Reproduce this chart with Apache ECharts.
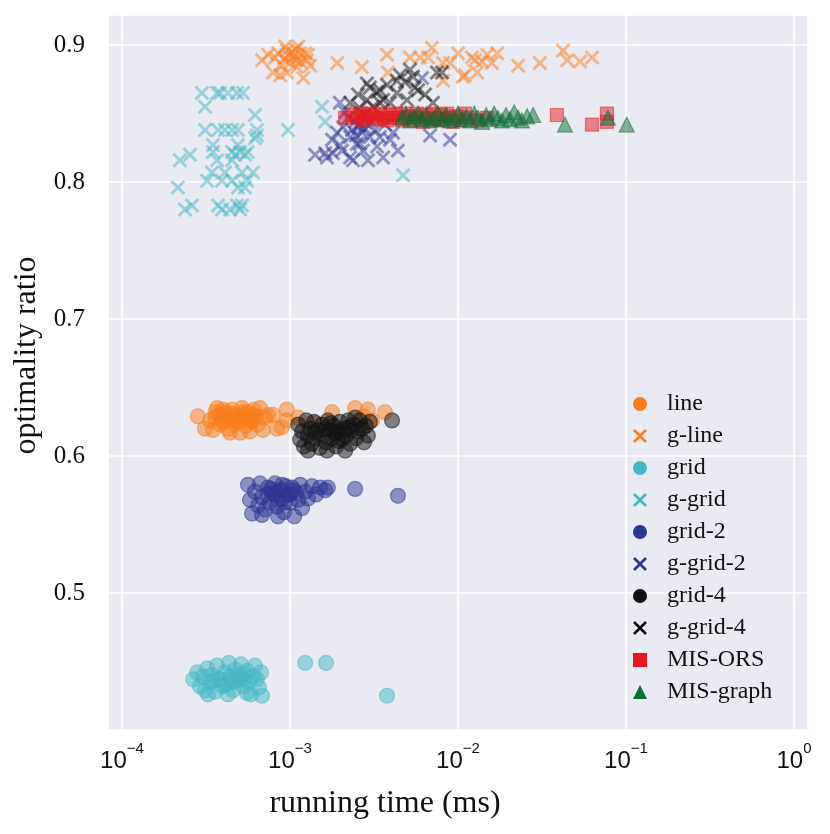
<!DOCTYPE html>
<html><head><meta charset="utf-8">
<script src="https://cdn.jsdelivr.net/npm/echarts@6/dist/echarts.min.js"></script>
<style>html,body{margin:0;padding:0;background:#fff}#c{width:830px;height:834px}</style>
</head><body><div id="c"></div>
<script>
// ---- data: [running time (ms), optimality ratio] ----
const seriesNames = ['line','g-line','grid','g-grid','grid-2','g-grid-2','grid-4','g-grid-4','MIS-ORS','MIS-graph'];
const xTickValues = [1e-4, 1e-3, 1e-2, 1e-1, 1];
const yTickValues = [0.5, 0.6, 0.7, 0.8, 0.9];

const lineData = [
 [2.83e-4,0.629],[3.12e-4,0.620],[3.34e-4,0.626],[3.48e-4,0.619],[3.68e-4,0.635],[3.83e-4,0.630],[3.99e-4,0.625],
 [4.10e-4,0.632],[4.27e-4,0.628],[4.39e-4,0.617],[4.52e-4,0.634],[4.71e-4,0.623],[4.84e-4,0.630],[5.04e-4,0.617],
 [5.04e-4,0.626],[5.18e-4,0.635],[5.32e-4,0.628],[5.47e-4,0.622],[5.62e-4,0.632],[5.78e-4,0.618],[5.94e-4,0.626],
 [6.10e-4,0.634],[6.27e-4,0.629],[6.45e-4,0.623],[6.63e-4,0.635],[6.90e-4,0.619],[7.10e-4,0.628],[7.39e-4,0.630],
 [7.92e-4,0.630],[8.36e-4,0.620],[8.96e-4,0.621],[9.59e-4,0.634],[9.59e-4,0.626],[1.12e-3,0.628],[1.41e-3,0.624],
 [1.78e-3,0.632],[2.44e-3,0.635],[2.72e-3,0.629],[2.91e-3,0.634],[3.08e-3,0.626],[3.68e-3,0.632],
 [3.58e-4,0.628],[4.16e-4,0.626],[4.58e-4,0.628],[4.90e-4,0.625],[5.40e-4,0.630],[5.78e-4,0.625],[3.83e-4,0.623],[4.27e-4,0.620],
 [4.45e-4,0.631],[4.00e-4,0.634],[5.25e-4,0.632],[4.70e-4,0.627],[5.60e-4,0.628],[6.00e-4,0.630],[3.60e-4,0.632]
];
const gLineData = [
 [6.82e-4,0.889],[7.92e-4,0.880],[8.49e-4,0.894],[9.60e-4,0.896],[1.04e-3,0.891],[1.15e-3,0.894],[1.26e-3,0.889],
 [9.60e-4,0.880],[1.20e-3,0.876],[1.10e-3,0.884],[8.97e-4,0.885],[1.00e-3,0.887],[8.15e-4,0.891],[8.73e-4,0.878],
 [1.28e-3,0.893],[1.12e-3,0.899],[9.35e-4,0.899],[1.23e-3,0.894],[1.03e-3,0.895],[1.09e-3,0.889],[9.20e-4,0.890],
 [1.15e-3,0.888],[1.32e-3,0.885],[7.40e-4,0.893],[1.06e-3,0.893],[9.80e-4,0.892],[1.08e-3,0.897],
 [1.91e-3,0.887],[2.68e-3,0.884],[3.78e-3,0.893],[3.83e-3,0.880],[5.18e-3,0.891],[5.94e-3,0.891],[6.63e-3,0.891],
 [7.00e-3,0.898],[8.15e-3,0.887],[8.15e-3,0.874],[1.00e-2,0.894],[1.07e-2,0.877],[1.21e-2,0.891],[1.30e-2,0.880],
 [1.39e-2,0.888],[1.49e-2,0.893],[1.59e-2,0.887],[1.71e-2,0.894],[2.28e-2,0.885],[3.07e-2,0.887],[4.22e-2,0.896],
 [4.47e-2,0.889],[5.33e-2,0.888],[6.28e-2,0.891],[8.97e-3,0.887],[1.10e-2,0.878],[1.26e-2,0.889]
];
const gridData = [
 [2.65e-4,0.437],[2.80e-4,0.442],[2.91e-4,0.432],[3.04e-4,0.439],[3.12e-4,0.429],[3.21e-4,0.445],[3.34e-4,0.435],
 [3.43e-4,0.440],[3.58e-4,0.428],[3.68e-4,0.447],[3.83e-4,0.437],[3.94e-4,0.432],[4.10e-4,0.442],[4.22e-4,0.434],
 [4.33e-4,0.449],[4.45e-4,0.438],[4.58e-4,0.429],[4.71e-4,0.444],[4.84e-4,0.436],[4.97e-4,0.440],[5.11e-4,0.448],
 [5.25e-4,0.432],[5.40e-4,0.438],[5.55e-4,0.443],[5.70e-4,0.435],[5.86e-4,0.426],[6.02e-4,0.439],[6.19e-4,0.447],
 [6.36e-4,0.437],[6.54e-4,0.431],[6.72e-4,0.442],[6.81e-4,0.425],[5.55e-4,0.427],[4.27e-4,0.426],[3.25e-4,0.426],
 [1.23e-3,0.449],[1.64e-3,0.449],[3.78e-3,0.425],
 [3.73e-4,0.437],[4.39e-4,0.439],[5.04e-4,0.437],[4.10e-4,0.433],[4.60e-4,0.435],[3.50e-4,0.436],[5.20e-4,0.441]
];
const gGridData = [
 [2.99e-4,0.865],[3.68e-4,0.865],[3.83e-4,0.865],[4.27e-4,0.865],[4.84e-4,0.865],[5.25e-4,0.865],
 [3.12e-4,0.855],[6.19e-4,0.849],
 [3.12e-4,0.838],[3.73e-4,0.838],[4.10e-4,0.838],[4.52e-4,0.838],[4.90e-4,0.838],[6.36e-4,0.838],[9.73e-4,0.838],
 [6.36e-4,0.834],[6.19e-4,0.832],
 [3.48e-4,0.827],[4.90e-4,0.827],
 [3.48e-4,0.822],[4.52e-4,0.822],[5.04e-4,0.822],[5.62e-4,0.822],
 [2.54e-4,0.820],[4.71e-4,0.820],[5.40e-4,0.820],
 [2.21e-4,0.816],[3.68e-4,0.816],[4.52e-4,0.816],
 [3.43e-4,0.807],[4.10e-4,0.807],[5.18e-4,0.807],[6.02e-4,0.807],
 [3.21e-4,0.801],[3.94e-4,0.801],[4.52e-4,0.801],[5.55e-4,0.801],
 [2.15e-4,0.796],[4.90e-4,0.796],[5.40e-4,0.796],
 [2.61e-4,0.783],[3.73e-4,0.783],[4.84e-4,0.783],[5.18e-4,0.783],
 [2.37e-4,0.780],[3.94e-4,0.780],[4.40e-4,0.780],[5.04e-4,0.780],
 [1.55e-3,0.855],[1.62e-3,0.844],[4.71e-3,0.805]
];
const grid2Data = [
 [5.62e-4,0.579],[5.78e-4,0.568],[5.94e-4,0.558],[6.19e-4,0.574],[6.45e-4,0.564],[6.63e-4,0.580],[6.81e-4,0.570],
 [7.10e-4,0.561],[7.39e-4,0.577],[7.60e-4,0.566],[7.81e-4,0.573],[8.14e-4,0.580],[8.36e-4,0.563],[8.71e-4,0.575],
 [8.96e-4,0.569],[9.20e-4,0.559],[9.46e-4,0.578],[9.72e-4,0.572],[1.00e-3,0.566],[1.03e-3,0.577],[1.06e-3,0.556],
 [1.09e-3,0.573],[1.12e-3,0.568],[1.15e-3,0.579],[1.18e-3,0.562],[1.23e-3,0.574],[1.28e-3,0.569],[1.35e-3,0.578],
 [1.43e-3,0.572],[1.51e-3,0.577],[1.62e-3,0.575],[1.68e-3,0.577],[2.44e-3,0.576],[4.39e-3,0.571],[6.81e-4,0.557],
 [8.48e-4,0.556],[7.39e-4,0.572],[9.33e-4,0.566],[8.14e-4,0.572],[8.96e-4,0.575],[1.00e-3,0.572],[8.48e-4,0.568],
 [9.00e-4,0.579],[1.05e-3,0.575],[7.70e-4,0.576]
];
const gGrid2Data = [
 [1.41e-3,0.820],[1.62e-3,0.821],[1.80e-3,0.821],[2.04e-3,0.823],[2.37e-3,0.816],[2.72e-3,0.823],[2.28e-3,0.833],
 [2.50e-3,0.828],[1.91e-3,0.836],[2.07e-3,0.840],[1.78e-3,0.831],[2.99e-3,0.833],[3.30e-3,0.826],[3.58e-3,0.818],
 [3.94e-3,0.831],[4.11e-3,0.836],[1.98e-3,0.858],[6.82e-3,0.834],[8.97e-3,0.831],[6.11e-3,0.876],[1.66e-3,0.818],
 [2.28e-3,0.818],[2.61e-3,0.828],[3.43e-3,0.833],[2.61e-3,0.842],[2.80e-3,0.839],[2.44e-3,0.844],[2.22e-3,0.847],
 [2.99e-3,0.845],[3.21e-3,0.838],[2.13e-3,0.851],[2.68e-3,0.850],[2.34e-3,0.838],[3.68e-3,0.842],[4.39e-3,0.823],
 [2.91e-3,0.816],[1.98e-3,0.827],[2.54e-3,0.841],[2.68e-3,0.836],[2.47e-3,0.834],[2.83e-3,0.843]
];
const grid4Data = [
 [1.12e-3,0.623],[1.15e-3,0.612],[1.18e-3,0.618],[1.21e-3,0.607],[1.25e-3,0.626],[1.28e-3,0.615],[1.32e-3,0.620],
 [1.35e-3,0.609],[1.39e-3,0.625],[1.43e-3,0.613],[1.47e-3,0.619],[1.51e-3,0.606],[1.55e-3,0.623],[1.59e-3,0.615],
 [1.64e-3,0.610],[1.68e-3,0.626],[1.73e-3,0.619],[1.78e-3,0.613],[1.83e-3,0.622],[1.88e-3,0.607],[1.93e-3,0.618],
 [1.98e-3,0.625],[2.04e-3,0.612],[2.10e-3,0.620],[2.16e-3,0.615],[2.22e-3,0.626],[2.28e-3,0.609],[2.34e-3,0.619],
 [2.40e-3,0.623],[2.47e-3,0.613],[2.54e-3,0.618],[2.61e-3,0.626],[2.68e-3,0.620],[2.76e-3,0.610],[2.83e-3,0.622],
 [2.91e-3,0.615],[2.13e-3,0.604],[1.66e-3,0.604],[1.28e-3,0.604],[2.44e-3,0.628],[4.05e-3,0.626],[2.99e-3,0.625],
 [1.41e-3,0.617],[1.85e-3,0.617],[1.62e-3,0.620],[1.75e-3,0.624],[2.00e-3,0.617],[2.25e-3,0.621],[1.95e-3,0.611]
];
const gGrid4Data = [
 [2.87e-3,0.872],[3.78e-3,0.871],[4.52e-3,0.878],[5.18e-3,0.882],[5.55e-3,0.869],[7.50e-3,0.880],[8.04e-3,0.880],
 [4.33e-3,0.865],[3.43e-3,0.858],[2.87e-3,0.860],[2.54e-3,0.864],[2.61e-3,0.854],[4.97e-3,0.860],[7.10e-3,0.858],
 [3.30e-3,0.866],[3.94e-3,0.858],[2.99e-3,0.869],[3.43e-3,0.867],[4.33e-3,0.874],[5.40e-3,0.877],[5.78e-3,0.867],
 [3.58e-3,0.860],[3.12e-3,0.855],[4.84e-3,0.873],[2.28e-3,0.858],[6.37e-3,0.864]
];
const misOrsData = [
 [2.13e-3,0.847],[2.34e-3,0.849],[2.51e-3,0.847],[2.61e-3,0.850],[2.72e-3,0.845],[2.83e-3,0.848],[2.95e-3,0.850],
 [3.08e-3,0.847],[3.21e-3,0.849],[3.34e-3,0.846],[3.48e-3,0.850],[3.63e-3,0.847],[3.78e-3,0.845],[3.94e-3,0.849],
 [4.10e-3,0.847],[4.27e-3,0.850],[4.45e-3,0.847],[4.64e-3,0.845],[4.84e-3,0.850],[5.04e-3,0.847],[5.25e-3,0.848],
 [5.47e-3,0.845],[5.70e-3,0.850],[5.94e-3,0.847],[6.19e-3,0.844],[6.45e-3,0.849],[6.72e-3,0.846],[7.00e-3,0.850],
 [7.29e-3,0.847],[7.60e-3,0.845],[7.92e-3,0.849],[8.25e-3,0.846],[8.60e-3,0.850],[8.96e-3,0.847],[9.33e-3,0.844],
 [9.72e-3,0.848],[1.03e-2,0.845],[1.10e-2,0.850],[1.18e-2,0.847],[1.30e-2,0.845],[1.49e-2,0.847],
 [3.88e-2,0.849],[6.27e-2,0.842],[7.70e-2,0.850],[7.70e-2,0.844]
];
const misGraphData = [
 [4.64e-3,0.847],[4.90e-3,0.850],[5.18e-3,0.845],[5.47e-3,0.848],[5.78e-3,0.850],[6.10e-3,0.846],[6.45e-3,0.849],
 [6.81e-3,0.845],[7.19e-3,0.847],[7.60e-3,0.850],[8.03e-3,0.846],[8.48e-3,0.849],[8.96e-3,0.845],[9.46e-3,0.847],
 [1.00e-2,0.850],[1.06e-2,0.846],[1.12e-2,0.848],[1.18e-2,0.845],[1.25e-2,0.850],[1.32e-2,0.847],[1.39e-2,0.844],
 [1.47e-2,0.849],[1.55e-2,0.846],[1.64e-2,0.850],[1.73e-2,0.847],[1.83e-2,0.845],[1.93e-2,0.849],[2.04e-2,0.846],
 [2.16e-2,0.851],[2.28e-2,0.847],[2.40e-2,0.845],[2.58e-2,0.848],[2.80e-2,0.849],
 [4.33e-2,0.842],[7.81e-2,0.847],[1.01e-1,0.842]
];

// ---- styling ----
const CROSS = 'path://M0,1.35L1.35,0L5,3.65L8.65,0L10,1.35L6.35,5L10,8.65L8.65,10L5,6.35L1.35,10L0,8.65L3.65,5Z';
const colors = {
  orange:'#f97d1c', teal:'#45b8c6', blue:'#2b3592', black:'#111111', red:'#e4191f', green:'#0c6e36'
};
const SERIF = '"Liberation Serif","Times New Roman",serif';
const SANS = '"Liberation Sans",Arial,sans-serif';

function mk(name, data, symbol, color, size){
  const isCross = symbol === CROSS;
  return {
    name, type:'scatter', data, symbol, symbolSize:size,
    itemStyle:{color, opacity:0.5, borderColor:color, borderWidth: isCross?0:1.2},
    emphasis:{disabled:true}, z:2
  };
}
const series = [
  mk(seriesNames[0], lineData, 'circle', colors.orange, 15),
  mk(seriesNames[1], gLineData, CROSS, colors.orange, 15),
  mk(seriesNames[2], gridData, 'circle', colors.teal, 15),
  mk(seriesNames[3], gGridData, CROSS, colors.teal, 15),
  mk(seriesNames[4], grid2Data, 'circle', colors.blue, 15),
  mk(seriesNames[5], gGrid2Data, CROSS, colors.blue, 15),
  mk(seriesNames[6], grid4Data, 'circle', colors.black, 15),
  mk(seriesNames[7], gGrid4Data, CROSS, colors.black, 15),
  mk(seriesNames[8], misOrsData, 'rect', colors.red, 13),
  mk(seriesNames[9], misGraphData, 'triangle', colors.green, 15)
];

const chart = echarts.init(document.getElementById('c'), null, {renderer:'canvas'});
chart.setOption({
  animation:false,
  backgroundColor:'#ffffff',
  grid:{left:108, right:22, top:15, bottom:104, show:true, backgroundColor:'#eaeaf2', borderWidth:0, containLabel:false},
  xAxis:{
    type:'log', logBase:10, min:8.254e-5, max:1.2115,
    name:'running time (ms)', nameLocation:'middle', nameGap:58,
    nameTextStyle:{fontFamily:SERIF, fontSize:32, color:'#111', padding:[0,146,0,0]},
    axisLine:{show:false}, axisTick:{show:false},
    splitLine:{show:true, lineStyle:{color:'#ffffff', width:1.7}},
    axisLabel:{
      margin:11, color:'#111', showMinLabel:false, showMaxLabel:false,
      formatter:function(v){
        const l = Math.log10(v), e = Math.round(l);
        if (Math.abs(l-e) > 1e-6) return '';
        return '{b|10}{s|' + (e<0 ? '\u2212'+(-e) : String(e)) + '}';
      },
      rich:{
        b:{fontFamily:SANS, fontSize:24, color:'#111', lineHeight:32, verticalAlign:'bottom'},
        s:{fontFamily:SANS, fontSize:15, color:'#111', lineHeight:18, verticalAlign:'top'}
      }
    }
  },
  yAxis:{
    type:'value', min:0.4, max:0.922, interval:0.1,
    name:'optimality ratio', nameLocation:'middle', nameGap:62,
    nameTextStyle:{fontFamily:SERIF, fontSize:32, color:'#111', padding:[0,0,0,34]},
    axisLine:{show:false}, axisTick:{show:false},
    splitLine:{show:true, lineStyle:{color:'#ffffff', width:1.7}},
    axisLabel:{
      margin:23, fontFamily:SERIF, fontSize:25, color:'#111', showMinLabel:false, showMaxLabel:false,
      formatter:function(v){
        for (const t of yTickValues) if (Math.abs(v-t) < 1e-9) return t.toFixed(1);
        return '';
      }
    }
  },
  legend:{
    orient:'vertical', left:633, top:392, padding:0, itemGap:8,
    itemWidth:14, itemHeight:14, symbolKeepAspect:true,
    itemStyle:{opacity:1, borderWidth:0},
    textStyle:{fontFamily:SERIF, fontSize:24, lineHeight:24, color:'#111', padding:[0,0,0,15]},
    data:seriesNames, selectedMode:false
  },
  series
});
</script></body></html>
